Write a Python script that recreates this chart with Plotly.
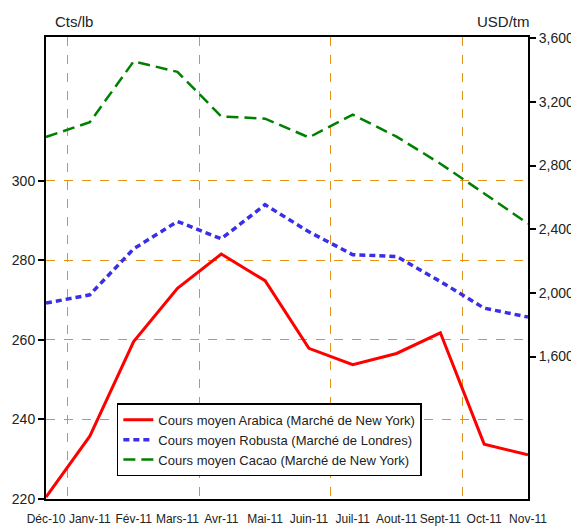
import plotly.graph_objects as go

# Monthly averages, Dec 2010 - Nov 2011
months = ['Déc-10', 'Janv-11', 'Fév-11', 'Mars-11', 'Avr-11', 'Mai-11',
          'Juin-11', 'Juil-11', 'Aout-11', 'Sept-11', 'Oct-11', 'Nov-11']
arabica = [220.5, 235.8, 259.6, 273.0, 281.6, 274.9, 257.9, 253.8, 256.6, 261.8, 233.8, 231.1]  # Cts/lb
robusta = [1936, 1988, 2277, 2449, 2340, 2554, 2384, 2240, 2229, 2072, 1904, 1848]  # USD/tm
cacao = [2980, 3072, 3455, 3389, 3109, 3095, 2977, 3120, 2982, 2812, 2625, 2435]  # USD/tm

left_ticks = [220, 240, 260, 280, 300]
right_ticks = [1600, 2000, 2400, 2800, 3200, 3600]

ORANGE = '#E3931A'
FONT = 'Liberation Sans, Arial, sans-serif'

x = list(range(len(months)))

fig = go.Figure()

fig.add_trace(go.Scatter(
    x=x, y=arabica, mode='lines',
    name='Cours moyen Arabica (Marché de New York)',
    line=dict(color='#FF0000', width=3)
))

fig.add_trace(go.Scatter(
    x=x, y=robusta, mode='lines', yaxis='y2',
    name='Cours moyen Robusta (Marché de Londres)',
    line=dict(color='#3A2EE6', width=3.5, dash='6px,4px')
))

fig.add_trace(go.Scatter(
    x=x, y=cacao, mode='lines', yaxis='y2',
    name='Cours moyen Cacao (Marché de New York)',
    line=dict(color='#008000', width=2.5, dash='12px,6px')
))

# page body adds an 8px margin, so the figure is sized/offset for that
fig.update_layout(
    width=571,
    height=523,
    margin=dict(l=38, r=51, t=29, b=32),
    paper_bgcolor='white',
    plot_bgcolor='white',
    font=dict(family=FONT, size=13, color='#222222'),
    showlegend=True,
    legend=dict(
        x=0.147, y=0.128, xanchor='left', yanchor='middle',
        bgcolor='white', bordercolor='black', borderwidth=1.5,
        font=dict(size=13, color='#222222'),
        tracegroupgap=0, itemwidth=30,
    ),
    xaxis=dict(
        range=[0, 11],
        tickvals=x,
        ticktext=months,
        tickangle=0,
        ticks='',
        ticklabelstandoff=8,
        automargin=False,
        showgrid=False,
        zeroline=False,
        showline=True, linecolor='black', linewidth=2, mirror=True,
        tickfont=dict(size=12),
        minor=dict(tick0=0.5, dtick=3, showgrid=True, gridcolor=ORANGE,
                   gridwidth=1.2, griddash='dash', ticks=''),
    ),
    yaxis=dict(
        range=[220, 336.2],
        tickvals=left_ticks,
        automargin=False,
        ticks='outside', ticklen=6, tickcolor='black', tickwidth=1.5,
        showgrid=True, gridcolor=ORANGE, gridwidth=1.2, griddash='dash',
        zeroline=False,
        showline=True, linecolor='black', linewidth=2,
        tickfont=dict(size=14),
    ),
    yaxis2=dict(
        overlaying='y', side='right',
        range=[705, 3608],
        tickvals=right_ticks,
        tickformat=',',
        automargin=False,
        ticks='outside', ticklen=6, tickcolor='black', tickwidth=1.5,
        showgrid=False, zeroline=False,
        showline=True, linecolor='black', linewidth=2,
        tickfont=dict(size=14),
    ),
    annotations=[
        dict(text='Cts/lb', xref='paper', yref='paper', x=0.014, y=1.0325,
             xanchor='left', yanchor='middle', showarrow=False,
             font=dict(size=15)),
        dict(text='USD/tm', xref='paper', yref='paper', x=1.008, y=1.0325,
             xanchor='right', yanchor='middle', showarrow=False,
             font=dict(size=15)),
    ],
)

fig.write_html("out.html")
